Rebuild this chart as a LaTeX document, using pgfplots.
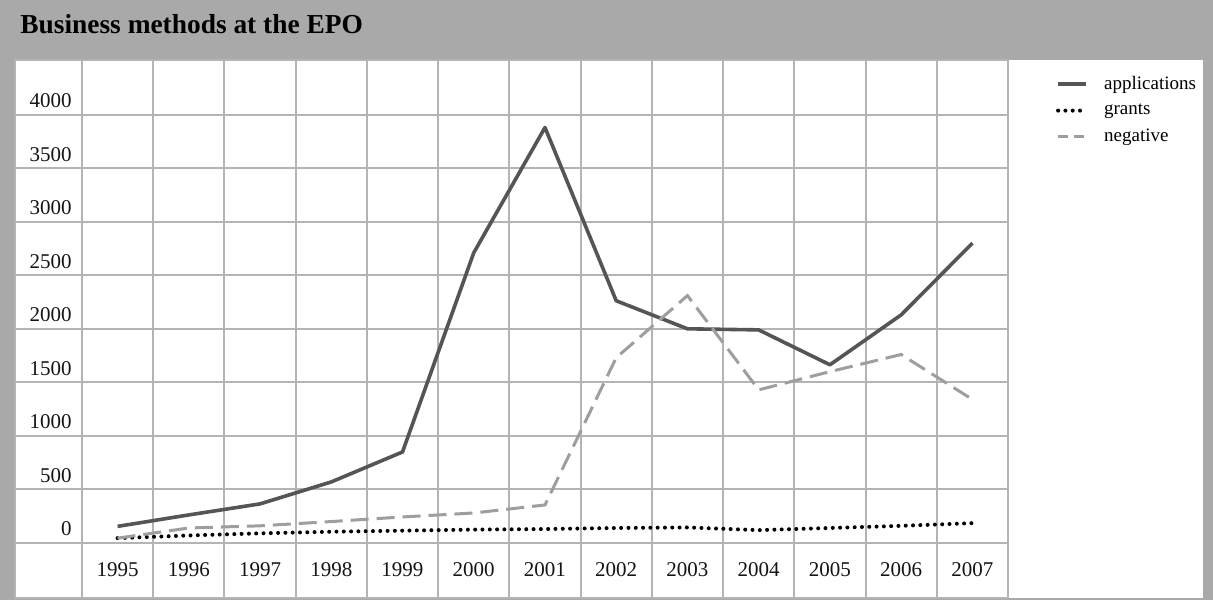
\documentclass[border=0pt]{standalone}
\usepackage{fontspec}
\setmainfont{Liberation Serif}
\usepackage{pgfplots}
\pgfplotsset{compat=1.18}

\definecolor{bggray}{HTML}{A9A9A9}
\definecolor{gridc}{HTML}{B4B4B4}
\definecolor{applc}{HTML}{555555}
\definecolor{negc}{HTML}{9E9E9E}
\definecolor{tickc}{HTML}{141414}

\begin{document}
\begin{tikzpicture}
% grey frame and white panel (1px = 0.5pt)
\fill[bggray] (0,0) rectangle (606.5pt,-300pt);
\useasboundingbox (0,0) rectangle (606.5pt,-300pt);
\fill[white] (7.5pt,-29.8pt) rectangle (601.5pt,-299pt);
\node[anchor=base west, inner sep=0pt, text=black,
      font=\fontsize{13.7}{16}\selectfont\bfseries] at (10pt,-16.8pt)
      {Business methods at the EPO};

\begin{axis}[
    at={(7.5pt,-299pt)}, anchor=south west,
    scale only axis,
    width=496.5pt, height=269.2pt,
    xmin=1993.56, xmax=2007.5,
    ymin=-514, ymax=4514,
    xtick={1995,...,2007},
    minor xtick={1994.5,1995.5,...,2006.5},
    ytick={0,500,...,4000},
    ymajorgrids, xminorgrids,
    major tick length=0pt, minor tick length=0pt,
    grid style={gridc, line width=1pt},
    minor grid style={gridc, line width=1pt},
    axis line style={gridc, line width=1pt},
    scaled x ticks=false, scaled y ticks=false,
    /pgf/number format/1000 sep={},
    /pgf/number format/assume math mode=true,
    tick label style={font=\fontsize{10.5}{12}\selectfont, text=tickc},
    xticklabel style={anchor=center, yshift=14pt},
    yticklabel style={anchor=base east, inner sep=0pt, xshift=28.5pt, yshift=3.5pt},
    legend style={at={(1.042,0.985)}, anchor=north west, draw=none, fill=none,
                  font=\fontsize{9.5}{11}\selectfont, row sep=1.75pt},
    legend cell align=left,
    legend image code/.code={\draw[#1] (0pt,0pt) -- (14pt,0pt); \path (20pt,0pt);},
]
\addplot[applc, line width=1.8pt, line join=round] coordinates {
    (1995,155) (1996,262) (1997,365) (1998,570) (1999,850) (2000,2710)
    (2001,3880) (2002,2262) (2003,2000) (2004,1990) (2005,1664)
    (2006,2130) (2007,2800)};
\addplot[black, line width=2pt, line cap=round, dash pattern=on 0pt off 3.65pt] coordinates {
    (1995,45) (1996,70) (1997,90) (1998,105) (1999,115) (2000,125)
    (2001,130) (2002,140) (2003,145) (2004,120) (2005,140)
    (2006,160) (2007,185)};
\addplot[negc, line width=1.5pt, dash pattern=on 9pt off 4pt,
    legend image code/.code={\draw[negc, line width=1.6pt, dash pattern=on 5pt off 3pt] (0pt,0pt) -- (14pt,0pt); \path (20pt,0pt);}]
    coordinates {
    (1995,45) (1996,140) (1997,160) (1998,200) (1999,243) (2000,280)
    (2001,355) (2002,1730) (2003,2310) (2004,1430) (2005,1600)
    (2006,1760) (2007,1340)};
\legend{applications, grants, negative}
\end{axis}
\end{tikzpicture}
\end{document}
